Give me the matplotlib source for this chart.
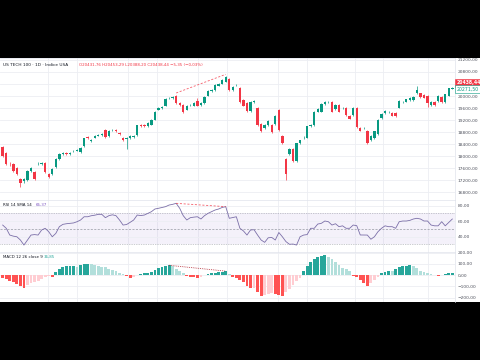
import matplotlib
matplotlib.use("Agg")
import matplotlib.pyplot as plt
from matplotlib.ticker import FuncFormatter

# daily candles (open / high / low / close)
opens = [18304, 18121, 17750, 17737, 17606, 17245, 17170, 17212, 17517, 17474,
         17730, 17740, 17792, 17409, 17409, 17650, 17901, 18085, 18121, 18070,
         18170, 18190, 18153, 18337, 18645, 18520, 18612, 18680, 18700, 18885,
         18665, 18858, 18885, 18786, 18600, 18585, 18590, 18640, 18700, 19049,
         19049, 18990, 19049, 19213, 19550, 19600, 19682, 19920, 19940, 20010,
         19760, 19705, 19541, 19700, 19682, 19836, 19705, 19760, 20010, 20150,
         20197, 20340, 20415, 20470, 20580, 20197, 20355, 20272, 19869, 19760,
         19508, 19810, 19597, 19072, 18940, 19049, 19049, 19072, 19541, 18688,
         17924, 18065, 18229, 17845, 18426, 18608, 18612, 19012, 19049, 19485,
         19485, 19738, 19790, 19813, 19574, 19705, 19594, 19597, 19344, 19377,
         19597, 18940, 18936, 18852, 18524, 18590, 18744, 19269, 19432, 19462,
         19452, 19432, 19616, 19790, 19813, 19869, 19869, 20088, 20088, 20033,
         20010, 19705, 19793, 19836, 19977, 19793, 20010, 20240]
highs = [18330, 18150, 17800, 17760, 17640, 17280, 17280, 17530, 17640, 17520,
         17800, 17800, 17820, 17440, 17600, 17930, 18120, 18140, 18150, 18140,
         18220, 18240, 18310, 18610, 18680, 18570, 18710, 18750, 18780, 18920,
         18880, 18900, 18910, 18810, 18630, 18640, 18690, 18710, 19050, 19080,
         19070, 19130, 19240, 19490, 19640, 19680, 19930, 19960, 19990, 20040,
         19790, 19730, 19710, 19750, 19790, 19920, 19790, 20000, 20190, 20220,
         20390, 20440, 20550, 20660, 20610, 20330, 20400, 20300, 19900, 19790,
         19820, 19860, 19620, 19100, 19060, 19190, 19080, 19370, 19570, 18720,
         17950, 18260, 18260, 18450, 18550, 18660, 19020, 19060, 19490, 19600,
         19760, 19820, 19830, 19840, 19730, 19730, 19640, 19620, 19370, 19620,
         19620, 18970, 18980, 18880, 18690, 18850, 19240, 19440, 19530, 19500,
         19480, 19460, 19860, 19830, 19910, 19970, 20000, 20320, 20110, 20060,
         20040, 19840, 19820, 20040, 20000, 20080, 20280, 20300]
lows = [17980, 17700, 17690, 17480, 17380, 16990, 17120, 17180, 17490, 17200,
        17700, 17720, 17440, 17280, 17380, 17620, 17880, 18050, 18040, 18040,
        18140, 18160, 18120, 18310, 18560, 18480, 18590, 18660, 18680, 18600,
        18640, 18830, 18800, 18720, 18500, 18230, 18560, 18620, 18680, 18980,
        18960, 18970, 19030, 19190, 19530, 19580, 19660, 19890, 19910, 19730,
        19680, 19450, 19520, 19670, 19660, 19660, 19680, 19740, 19990, 20130,
        20180, 20320, 20390, 20450, 20170, 20170, 20320, 19760, 19660, 19480,
        19480, 19770, 19020, 18800, 18910, 19020, 18780, 19040, 18850, 18420,
        17200, 18040, 17820, 17820, 18400, 18570, 18590, 18980, 19020, 19460,
        19460, 19710, 19760, 19460, 19550, 19460, 19560, 19330, 19220, 19350,
        18930, 18830, 18900, 18420, 18500, 18560, 18720, 19240, 19410, 19430,
        19320, 19300, 19590, 19760, 19790, 19840, 19840, 20060, 19950, 19920,
        19640, 19680, 19680, 19810, 19770, 19770, 19990, 20220]
closes = [18009, 17737, 17730, 17517, 17409, 17104, 17245, 17500, 17606, 17245,
          17750, 17770, 17474, 17320, 17573, 17901, 18088, 18095, 18065, 18110,
          18175, 18198, 18285, 18590, 18590, 18528, 18688, 18721, 18754, 18632,
          18852, 18866, 18829, 18744, 18534, 18595, 18665, 18680, 19026, 19010,
          18990, 19104, 19213, 19465, 19616, 19650, 19902, 19930, 19950, 19760,
          19705, 19485, 19682, 19710, 19760, 19682, 19760, 19977, 20164, 20197,
          20361, 20415, 20525, 20633, 20197, 20305, 20365, 19793, 19682, 19508,
          19793, 19816, 19049, 18829, 19026, 19157, 18809, 19344, 18885, 18449,
          17409, 18229, 17845, 18426, 18524, 18616, 18993, 19020, 19465, 19574,
          19738, 19793, 19796, 19485, 19705, 19485, 19600, 19354, 19246, 19597,
          18960, 18852, 18944, 18449, 18665, 18829, 19213, 19410, 19508, 19468,
          19344, 19322, 19836, 19796, 19890, 19945, 19977, 20197, 19977, 19945,
          19760, 19813, 19705, 20010, 19793, 20056, 20252, 20260]

# RSI 14 values per candle
rsi = [54.8, 50.6, 41.9, 40.5, 39.7, 35.5, 29.0, 35.5, 41.9, 42.5,
       41.9, 48.4, 50.6, 46.2, 39.7, 44.0, 52.7, 55.7, 56.5, 57.0,
       57.5, 59.1, 61.3, 65.5, 65.5, 66.8, 67.5, 68.6, 68.6, 64.3,
       66.9, 68.0, 66.9, 61.3, 54.8, 55.5, 58.3, 61.3, 67.7, 67.0,
       67.7, 69.9, 72.0, 75.5, 76.4, 77.5, 78.5, 80.6, 81.5, 82.8,
       76.4, 66.9, 61.3, 64.3, 65.0, 65.5, 62.6, 66.9, 69.9, 72.0,
       74.2, 75.5, 77.5, 78.5, 63.5, 64.5, 65.5, 50.6, 47.2, 41.9,
       48.4, 48.8, 41.9, 35.5, 32.5, 38.4, 38.8, 35.5, 45.2, 39.7,
       33.5, 30.0, 30.3, 29.0, 39.7, 41.9, 42.5, 50.6, 50.6, 56.1,
       57.0, 60.0, 59.1, 54.8, 56.5, 52.7, 53.8, 50.6, 50.6, 54.8,
       54.0, 42.0, 42.0, 41.9, 36.5, 39.7, 46.2, 50.6, 53.8, 52.7,
       52.7, 50.6, 59.1, 60.0, 60.0, 60.8, 62.6, 63.5, 62.6, 60.0,
       60.0, 54.8, 53.8, 53.8, 59.1, 53.8, 58.3, 62.6]

# MACD histogram per candle
macd_hist = [-29, -38, -50, -64, -80, -98, -118, -90, -75, -66,
             -55, -36, -15, -4, -14, 30, 58, 74, 80, 83,
             84, 74, 92, 98, 103, 95, 88, 82, 76, 68,
             58, 46, 36, 22, 10, -10, -26, -20, 3, 8,
             14, 21, 30, 45, 60, 74, 82, 87, 78, 58,
             36, 14, -8, -14, -20, -29, -15, 3, 9, 18,
             22, 26, 29, 35, 10, -15, -25, -40, -59, -97,
             -118, -112, -150, -186, -178, -170, -163, -170, -178, -185,
             -150, -120, -90, -55, -25, 38, 80, 118, 147, 162,
             171, 177, 162, 140, 115, 88, 65, 50, 35, -5,
             -20, -45, -74, -97, -70, -40, -15, 15, 25, 40,
             35, 55, 70, 78, 82, 88, 78, 60, 40, 25,
             15, 8, 3, -5, -3, 12, 18, 22]

price_ticks = [16800, 17200, 17600, 18000, 18400, 18800, 19200, 19600, 20000, 20400, 20800, 21200]
rsi_ticks = [40, 60, 80]
macd_ticks = [-200, -100, 0, 100, 200]
# candle index of the vertical date grid lines
date_grid = [12.8, 21.0, 35.4, 43.6, 55.2, 63.4, 77.8, 86.0, 99.5, 107.4, 120.1]
# tick label hidden behind the last-price box
hidden_tick = 20400

UP = "#089981"
DOWN = "#F23645"
GRID = "#eceef3"
TXT = "#50535e"


def fmt(v, pos=None):
    if v == hidden_tick:
        return ""
    return f"{v:.2f}".replace(".", ",").replace("-", "\u2212")


def px(y):
    # pixel row -> figure fraction
    return 1 - y / 360


fig = plt.figure(figsize=(4.8, 3.6), dpi=100, facecolor="black")
bg = fig.add_axes([0, px(302), 1, px(58) - px(302)])
bg.set_facecolor("white")
bg.set_xticks([])
bg.set_yticks([])
for s in bg.spines.values():
    s.set_visible(False)

W = 455 / 480
ax_p = fig.add_axes([0, px(200), W, px(58) - px(200)])
ax_r = fig.add_axes([0, px(252.5), W, px(200) - px(252.5)])
ax_m = fig.add_axes([0, px(302), W, px(252.5) - px(302)])

n = len(closes)
x = list(range(n))

for ax in (ax_p, ax_r, ax_m):
    ax.set_facecolor("none")
    ax.set_xlim(-0.76, n - 1 + 0.76)
    ax.set_xticks([])
    for xv in date_grid:
        ax.axvline(xv, color=GRID, lw=0.6, zorder=0)
    ax.yaxis.tick_right()
    ax.yaxis.set_major_formatter(FuncFormatter(fmt))
    ax.tick_params(axis="y", length=0, pad=2, labelsize=3.2, labelcolor=TXT)
    ax.grid(axis="y", color=GRID, lw=0.6, zorder=0)
    for name, s in ax.spines.items():
        s.set_visible(name in ("top", "right"))
        s.set_color("#e0e3eb")
        s.set_linewidth(0.5)

# price pane
colors = [UP if c >= o else DOWN for o, c in zip(opens, closes)]
bottoms = [min(o, c) for o, c in zip(opens, closes)]
heights = [max(abs(c - o), 12) for o, c in zip(opens, closes)]
ax_p.vlines(x, lows, highs, colors=colors, lw=0.5, zorder=2)
ax_p.bar(x, heights, bottom=bottoms, width=0.68, color=colors, lw=0, zorder=3)
ax_p.set_ylim(16547, 21262)
ax_p.set_yticks(price_ticks)
ax_p.plot([49, 63], [highs[49] + 60, highs[63] + 60], color=DOWN, lw=0.6,
          dashes=(2.5, 2), alpha=0.8, zorder=4)

# last price labels on the scale
ax_p.annotate("20438,44", xy=(1.0, 20438), xycoords=("axes fraction", "data"),
              xytext=(1.5, 0), textcoords="offset points", va="center", ha="left",
              fontsize=3.3, color="white", fontweight="bold", annotation_clip=False,
              bbox=dict(boxstyle="square,pad=0.35", fc=DOWN, ec=DOWN, lw=0.4))
ax_p.annotate("20271,50", xy=(1.0, 20271.5), xycoords=("axes fraction", "data"),
              xytext=(1.5, -1), textcoords="offset points", va="center", ha="left",
              fontsize=3.3, color=UP, annotation_clip=False,
              bbox=dict(boxstyle="square,pad=0.35", fc="white", ec=UP, lw=0.4))

# RSI pane
ax_r.axhspan(30, 70, color="#7E57C2", alpha=0.08, lw=0, zorder=0)
for lvl, ls in ((70, (1, 1.5)), (50, (3, 2)), (30, (1, 1.5))):
    ax_r.axhline(lvl, color="#9598a1", lw=0.5, dashes=ls, zorder=1)
ax_r.plot(x, rsi, color="#7b6fa8", lw=0.6, zorder=3)
ax_r.plot([49, 63], [rsi[49], rsi[63]], color=DOWN, lw=0.6, dashes=(2.5, 2),
          alpha=0.8, zorder=4)
ax_r.set_ylim(19.4, 87.1)
ax_r.set_yticks(rsi_ticks)

# MACD pane
hist_cols = []
prev = 0
for v in macd_hist:
    if v >= 0:
        hist_cols.append("#26A69A" if v >= prev else "#B2DFDB")
    else:
        hist_cols.append("#FF5252" if v <= prev else "#FFCDD2")
    prev = v
ax_m.bar(x, macd_hist, width=0.8, color=hist_cols, lw=0, zorder=2)
ax_m.plot([47, 63], [macd_hist[47], macd_hist[63]], color="#b22833", lw=0.6,
          dashes=(1, 1.2), zorder=4)
ax_m.set_ylim(-240, 201)
ax_m.set_yticks(macd_ticks)

# legends
fig.text(3 / 480, px(65), "US TECH 100 \u00b7 1D \u00b7 Indice USA", fontsize=3.1,
         color="#131722", va="center")
fig.text(79 / 480, px(65), "O20431,76 H20453,29 L20388,20 C20438,44 \u22125,35 (\u22120,03%)",
         fontsize=2.9, color=DOWN, va="center")
fig.text(3 / 480, px(205), "RSI 14 SMA 14", fontsize=2.9, color="#131722", va="center")
fig.text(36 / 480, px(205), "65,37", fontsize=2.9, color="#7E57C2", va="center")
fig.text(3 / 480, px(256.5), "MACD 12 26 close 9", fontsize=2.9, color="#131722", va="center")
fig.text(44 / 480, px(256.5), "36,85", fontsize=2.9, color="#26A69A", va="center")

fig.savefig("out.png", dpi=100, facecolor="black")
